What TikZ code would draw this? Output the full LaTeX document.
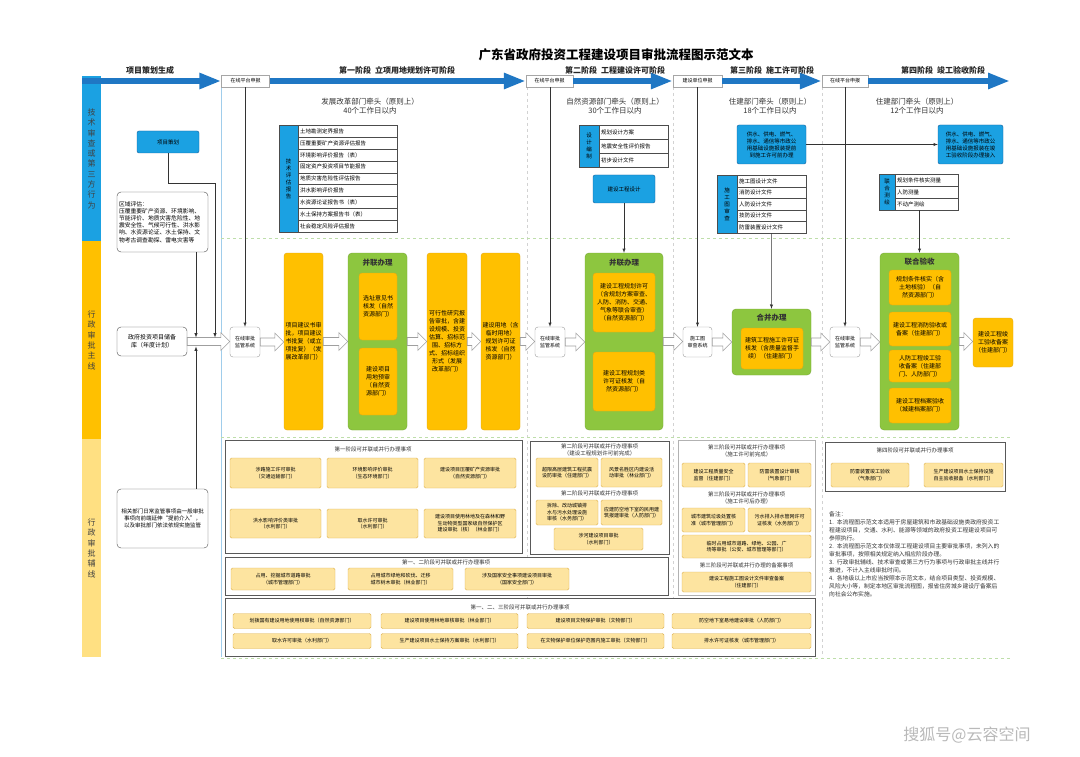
\documentclass[tikz,border=0pt]{standalone}
\usepackage{fontspec}
\setmainfont{Noto Sans CJK SC}
\XeTeXlinebreaklocale "zh"
\XeTeXlinebreakskip = 0pt
\usepackage{xcolor}
\usetikzlibrary{shapes.geometric, arrows, arrows.meta, positioning, calc}
\definecolor{hdrblue}{RGB}{31,119,196}
\definecolor{techblue}{RGB}{27,161,226}
\definecolor{techline}{RGB}{22,96,156}
\definecolor{mainorange}{RGB}{255,192,0}
\definecolor{mainline}{RGB}{228,168,20}
\definecolor{parlgreen}{RGB}{141,198,63}
\definecolor{auxfill}{RGB}{253,228,160}
\definecolor{auxline}{RGB}{222,178,80}
\definecolor{auxcol}{RGB}{255,224,130}
\definecolor{sepgreen}{RGB}{190,222,170}
\definecolor{sepblue}{RGB}{160,205,235}

\tikzset{
  titletxt/.style={font=\fontsize{12.5}{14}\selectfont\bfseries},
  lane/.style={minimum width=19pt, inner sep=0pt, anchor=north west, align=center, text=black!75, font=\fontsize{8}{10.3}\selectfont},
  hdrbox/.style={draw=gray!70, fill=white, minimum width=48pt, minimum height=12pt, inner sep=0pt, font=\fontsize{5}{6}\selectfont},
  hdrarrow/.style={hdrblue, line width=6pt, -{Triangle[length=22pt, width=15pt]}},
  stagelbl/.style={font=\fontsize{8}{9}\selectfont\bfseries, text=black!85},
  leadtxt/.style={align=center, font=\fontsize{7.5}{9}\selectfont, text=black!80},
  techbox/.style={draw=techline, fill=techblue, rounded corners=2pt, align=center, inner sep=1.5pt, font=\fontsize{5.5}{7}\selectfont},
  listtag/.style={draw=black!70, fill=techblue, inner sep=0pt, anchor=north west, align=center, font=\fontsize{5.5}{7}\selectfont},
  listrow/.style={draw=black!70, fill=white, anchor=north west, inner sep=2pt, align=left, font=\fontsize{5.5}{6.5}\selectfont},
  notebox/.style={draw=black!70, fill=white, rounded corners=4pt, align=left, inner sep=2pt, font=\fontsize{5.8}{7.2}\selectfont},
  platbox/.style={draw=gray!80, fill=white, rounded corners=3pt, minimum width=30pt, minimum height=30pt, inner sep=0pt, align=center, font=\fontsize{5}{6.5}\selectfont},
  mainbox/.style={fill=mainorange, draw=mainline, rounded corners=3pt, align=center, inner sep=1.5pt, font=\fontsize{6}{8}\selectfont},
  parbox/.style={fill=parlgreen, draw=parlgreen!85!black, rounded corners=4pt},
  partitle/.style={font=\fontsize{7.5}{9}\selectfont\bfseries, text=black!80},
  auxblock/.style={draw=black!65, line width=0.7pt, fill=white, anchor=north west, inner sep=0pt},
  auxtitle/.style={align=center, font=\fontsize{5.5}{7}\selectfont, text=black!80},
  auxbox/.style={fill=auxfill, draw=auxline, rounded corners=1.5pt, align=center, inner sep=1.5pt, font=\fontsize{5}{6.5}\selectfont},
  conn/.style={-latex, black!80, line width=0.5pt},
  fatline/.style={draw=gray!75, fill=white, line width=0.6pt},
  sepline/.style={dashed, draw=sepgreen, line width=0.6pt}
}

\newcommand{\fatarrow}[2]{%
  \draw[fatline] let \p1=(#1.east), \p2=(#2.west) in
    (\x1,\y1+4pt) -- (\x2-9pt,\y1+4pt) -- (\x2-9pt,\y1+9pt) -- (\x2,\y1)
    -- (\x2-9pt,\y1-9pt) -- (\x2-9pt,\y1-4pt) -- (\x1,\y1-4pt) -- cycle;}

\begin{document}
\begin{tikzpicture}[x=1pt, y=-1pt]
\useasboundingbox (0,0) rectangle (1080,757);
\fill[white] (0,0) rectangle (1080,757);

\node[titletxt] (title) at (616,55) {广东省政府投资工程建设项目审批流程图示范文本};

% lanes
\node[lane, fill=techblue, minimum height=165pt] (laneA) at (82,76) {技\\术\\审\\查\\或\\第\\三\\方\\行\\为};
\node[lane, fill=mainorange, minimum height=198pt] (laneB) at (82,241) {行\\政\\审\\批\\主\\线};
\node[lane, fill=auxcol, minimum height=218pt] (laneC) at (82,439) {行\\政\\审\\批\\辅\\线};

% separators
\draw[sepblue, line width=0.8pt] (221,87) -- (221,657);
\foreach \x in {527,673,822}
  \draw[dashed, gray!35, line width=0.5pt] (\x,87) -- (\x,657);
\draw[sepline] (221,238) -- (1010,238);
\draw[sepline] (221,437) -- (1010,437);
\draw[sepline] (221,658) -- (1010,658);

% stage header
\node[hdrbox] (h1) at (245.5,81) {在线平台申报};
\node[hdrbox, minimum width=47pt] (h2) at (549.5,81) {在线平台申报};
\node[hdrbox, minimum width=49pt] (h3) at (697.5,81) {建设单位申报};
\node[hdrbox, minimum width=46pt] (h4) at (845,81) {在线平台申报};
\coordinate (hbeg) at (82,81);
\coordinate (hend) at (1010,81);
\draw[hdrarrow] (hbeg) -- (h1.west);
\draw[hdrarrow] (h1.east) -- (h2.west);
\draw[hdrarrow] (h2.east) -- (h3.west);
\draw[hdrarrow] (h3.east) -- (h4.west);
\draw[hdrarrow] (h4.east) -- (hend);

\node[stagelbl] (s0) at (150,70) {项目策划生成};
\node[stagelbl] (s1) at (397,70) {第一阶段\enspace 立项用地规划许可阶段};
\node[stagelbl] (s2) at (615,70) {第二阶段\enspace 工程建设许可阶段};
\node[stagelbl] (s3) at (772,70) {第三阶段\enspace 施工许可阶段};
\node[stagelbl] (s4) at (943,70) {第四阶段\enspace 竣工验收阶段};

\node[leadtxt] (d1) at (370,106) {发展改革部门牵头（原则上）\\40个工作日以内};
\node[leadtxt] (d2) at (615,106) {自然资源部门牵头（原则上）\\30个工作日以内};
\node[leadtxt] (d3) at (770,106) {住建部门牵头（原则上）\\18个工作日以内};
\node[leadtxt] (d4) at (917,106) {住建部门牵头（原则上）\\12个工作日以内};

% technical review lane
\node[techbox, minimum width=62pt, minimum height=22pt] (plan) at (168,142) {项目策划};
\node[notebox, minimum height=60pt, text width=87pt] (qypg) at (162.5,222) {区域评估：\\压覆重要矿产资源、环境影响、节能评价、地质灾害危险性、地震安全性、气候可行性、洪水影响、水资源论证、水土保持、文物考古调查勘探、雷电灾害等};

\node[listtag, minimum width=19pt, minimum height=107pt] (tag1) at (279,125) {技\\术\\评\\估\\报\\告};
\foreach \t [count=\i] in {土地勘测定界报告, 压覆重要矿产资源评估报告, 环境影响评价报告（表）, 固定资产投资项目节能报告, 地质灾害危险性评估报告, 洪水影响评价报告, 水资源论证报告书（表）, 水土保持方案报告书（表）, 社会稳定风险评估报告}
  \node[listrow, minimum height=11.9pt, text width=95pt] (r1-\i) at (298,{125+11.9*(\i-1)}) {\t};

\node[listtag, minimum width=20pt, minimum height=42pt] (tag2) at (579,125) {设\\计\\编\\制};
\foreach \t [count=\i] in {规划设计方案, 地震安全性评价报告, 初步设计文件}
  \node[listrow, minimum height=14pt, text width=65pt] (r2-\i) at (599,{125+14*(\i-1)}) {\t};
\node[techbox, minimum width=62pt, minimum height=28pt] (sg2) at (624,189) {建设工程设计};

\node[techbox, minimum width=69pt, minimum height=39pt, text width=65pt] (sg3) at (771.5,144.5) {供水、供电、燃气、排水、通信等市政公用基础设施报装提前到施工许可前办理};
\node[techbox, minimum width=65pt, minimum height=39pt, text width=61pt] (sg4) at (970.5,144.5) {供水、供电、燃气、排水、通信等市政公用基础设施报装在竣工验收阶段办理接入};
\draw[conn] (sg3.east) -- (sg4.west);

\node[listtag, minimum width=20pt, minimum height=58pt] (tag3) at (717,175) {施\\工\\图\\审\\查};
\foreach \t [count=\i] in {施工图设计文件, 消防设计文件, 人防设计文件, 技防设计文件, 防雷装置设计文件}
  \node[listrow, minimum height=11.6pt, text width=65pt] (r3-\i) at (737,{175+11.6*(\i-1)}) {\t};

\node[listtag, minimum width=16pt, minimum height=36pt] (tag4) at (879,174) {联\\合\\测\\绘};
\foreach \t [count=\i] in {规划条件核实测量, 人防测量, 不动产测绘}
  \node[listrow, minimum height=12pt, text width=59pt] (r4-\i) at (895,{174+12*(\i-1)}) {\t};

% main approval lane
\node[notebox, minimum width=70pt, minimum height=29pt, text width=66pt, align=center, font=\fontsize{6}{8}\selectfont] (cbk) at (152,341.5) {政府投资项目储备库（年度计划）};
\node[platbox] (plat1) at (245,342) {在线审批\\监管系统};
\node[mainbox, minimum width=39pt, minimum height=177pt, text width=36pt] (xmjys) at (303.5,341.5) {项目建议书审批，项目建议书批复（或立项批复）（发展改革部门）};
\node[parbox, minimum width=59pt, minimum height=177pt] (bl1) at (377.5,341.5) {};
\node[partitle] (bl1t) at (377.5,263) {并联办理};
\node[mainbox, minimum width=38pt, minimum height=67pt, text width=35pt] (bl1a) at (378,306.5) {选址意见书核发（自然资源部门）};
\node[mainbox, minimum width=38pt, minimum height=67pt, text width=35pt] (bl1b) at (378,381.5) {建设项目用地预审（自然资源部门）};
\node[mainbox, minimum width=40pt, minimum height=177pt, text width=37pt] (kxx) at (447,341.5) {可行性研究报告审批，含建设规模、投资估算、招标范围、招标方式、招标组织形式（发展改革部门）};
\node[mainbox, minimum width=39pt, minimum height=177pt, text width=36pt] (ydgh) at (500.5,341.5) {建设用地（含临时用地）规划许可证核发（自然资源部门）};
\node[platbox] (plat2) at (550,342) {在线审批\\监管系统};
\node[parbox, minimum width=78pt, minimum height=177pt] (bl2) at (624,341.5) {};
\node[partitle] (bl2t) at (624,263) {并联办理};
\node[mainbox, minimum width=62pt, minimum height=59pt, text width=58pt] (bl2a) at (624,302.5) {建设工程规划许可（含规划方案审查、人防、消防、交通、气象等联合审查）（自然资源部门）};
\node[mainbox, minimum width=62pt, minimum height=59pt, text width=58pt] (bl2b) at (624,381.5) {建设工程规划类许可证核发（自然资源部门）};
\node[platbox, minimum width=29pt] (plat3) at (697.5,342) {施工图\\审查系统};
\node[parbox, minimum width=79pt, minimum height=66pt] (hb) at (771.5,342) {};
\node[partitle] (hbt) at (771.5,318) {合并办理};
\node[mainbox, minimum width=62pt, minimum height=41pt, text width=58pt] (hba) at (772,348.5) {建筑工程施工许可证核发（含质量监督手续）（住建部门）};
\node[platbox] (plat4) at (845,342) {在线审批\\监管系统};
\node[parbox, minimum width=79pt, minimum height=177pt] (lh) at (919.5,341.5) {};
\node[partitle] (lht) at (919.5,262) {联合验收};
\node[mainbox, minimum width=62pt, minimum height=35pt, text width=58pt] (lha) at (920,287.5) {规划条件核实（含土地核验）（自然资源部门）};
\node[mainbox, minimum width=62pt, minimum height=34pt, text width=58pt] (lhb) at (920,329) {建设工程消防验收或备案（住建部门）};
\node[mainbox, minimum width=62pt, minimum height=32pt, text width=58pt] (lhc) at (920,366) {人防工程竣工验收备案（住建部门、人防部门）};
\node[mainbox, minimum width=62pt, minimum height=35pt, text width=58pt] (lhd) at (920,405.5) {建设工程档案验收（城建档案部门）};
\node[mainbox, minimum width=40pt, minimum height=49pt, text width=37pt] (ba) at (993,342.5) {建设工程竣工验收备案（住建部门）};

\fatarrow{cbk}{plat1}
\fatarrow{plat1}{xmjys}
\fatarrow{xmjys}{bl1}
\fatarrow{bl1}{kxx}
\fatarrow{kxx}{ydgh}
\fatarrow{ydgh}{plat2}
\fatarrow{plat2}{bl2}
\fatarrow{bl2}{plat3}
\fatarrow{plat3}{hb}
\fatarrow{hb}{plat4}
\fatarrow{plat4}{lh}
\fatarrow{lh}{ba}

% connectors into the main lane
\coordinate (j1) at (215,337.5);
\coordinate (j2) at (196,337.5);
\coordinate (j3) at (196,346.5);
\draw[conn] (plan.south) |- (j1 |- 0,183) -- (j1);
\draw[conn] (qypg.south -| j2) -- (j2);
\draw[conn] (plat1.north |- h1.south) -- (plat1.north);
\draw[conn] (plat2.north |- h2.south) -- (plat2.north);
\draw[conn] (plat3.north |- h3.south) -- (plat3.north);
\draw[conn] (plat4.north |- h4.south) -- (plat4.north);
\draw[conn] (sg2.south) -- (bl2.north);
\draw[conn] (r3-5.south) -- (hb.north);
\draw[conn] (lh.north |- r4-3.south) -- (lh.north);

% auxiliary lane
\node[notebox, minimum width=91pt, minimum height=59pt, text width=87pt, align=center, font=\fontsize{5.5}{7}\selectfont] (fxb) at (162.5,518.5) {相关部门日常监管事项由一般审批事项向前端延伸“提前介入”，以及审批部门依法依规实施监管};
\draw[conn] (fxb.north -| j3) -- (j3);

% stage 1 block
\node[auxblock, minimum width=297pt, minimum height=113pt] (blk1) at (225,440) {};
\node[auxtitle] (blk1t) at (373,449) {第一阶段可并联或并行办理事项};
\node[auxbox, minimum width=91pt, minimum height=30pt, text width=87pt] (a1) at (275.5,473) {涉路施工许可审批\\（交通运输部门）};
\node[auxbox, minimum width=91pt, minimum height=30pt, text width=87pt] (a2) at (372.5,473) {环境影响评价审批\\（生态环境部门）};
\node[auxbox, minimum width=92pt, minimum height=30pt, text width=88pt] (a3) at (470,473) {建设项目压覆矿产资源审批\\（自然资源部门）};
\node[auxbox, minimum width=91pt, minimum height=29pt, text width=87pt] (a4) at (275.5,523.5) {洪水影响评价类审批\\（水利部门）};
\node[auxbox, minimum width=91pt, minimum height=29pt, text width=87pt] (a5) at (372.5,523.5) {取水许可审批\\（水利部门）};
\node[auxbox, minimum width=92pt, minimum height=29pt, text width=88pt] (a6) at (470,523.5) {建设项目使用林地及在森林和野生动物类型国家级自然保护区建设审批（核）（林业部门）};

% stage 1-2 block
\node[auxblock, minimum width=443pt, minimum height=38pt] (blk12) at (225,557) {};
\node[auxtitle] (blk12t) at (446,562) {第一、二阶段可并联或并行办理事项};
\node[auxbox, minimum width=104pt, minimum height=22pt, text width=100pt] (b1) at (283,579) {占用、挖掘城市道路审批\\（城市管理部门）};
\node[auxbox, minimum width=105pt, minimum height=22pt, text width=101pt] (b2) at (400.5,579) {占用城市绿地和砍伐、迁移城市树木审批（林业部门）};
\node[auxbox, minimum width=104pt, minimum height=22pt, text width=100pt] (b3) at (517,579) {涉及国家安全事项建设项目审批\\（国家安全部门）};

% stage 2 block
\node[auxblock, minimum width=139pt, minimum height=113pt] (blk2) at (530,441) {};
\node[auxtitle] (blk2t) at (599.5,450) {第二阶段可并联或并行办理事项\\（建设工程规划许可前完成）};
\node[auxbox, minimum width=62pt, minimum height=29pt, text width=58pt] (c1) at (567,472.5) {超限高层建筑工程抗震设防审批（住建部门）};
\node[auxbox, minimum width=61pt, minimum height=29pt, text width=57pt] (c2) at (631.5,472.5) {风景名胜区内建设活动审批（林业部门）};
\node[auxtitle] (blk2s) at (599.5,493) {第二阶段可并联或并行办理事项};
\node[auxbox, minimum width=62pt, minimum height=25pt, text width=58pt] (c3) at (567,512.5) {拆除、改动城镇排水与污水处理设施审核（水务部门）};
\node[auxbox, minimum width=61pt, minimum height=25pt, text width=57pt] (c4) at (631.5,512.5) {应建防空地下室的民用建筑报建审批（人防部门）};
\node[auxbox, minimum width=89pt, minimum height=22pt, text width=85pt] (c5) at (598.5,539) {涉河建设项目审批\\（水利部门）};

% stage 3 block
\node[auxblock, draw=black!30, minimum width=137pt, minimum height=155pt] (blk3) at (678,440) {};
\node[auxtitle] (blk3t) at (746.5,451) {第三阶段可并联或并行办理事项\\（施工许可前完成）};
\node[auxbox, minimum width=63pt, minimum height=24pt, text width=59pt] (e1) at (713.5,475) {建设工程质量安全监督（住建部门）};
\node[auxbox, minimum width=63pt, minimum height=24pt, text width=59pt] (e2) at (779.5,475) {防雷装置设计审核\\（气象部门）};
\node[auxtitle] (blk3s) at (746.5,498) {第三阶段可并联或并行办理事项\\（施工许可后办理）};
\node[auxbox, minimum width=63pt, minimum height=24pt, text width=59pt] (e3) at (713.5,520) {城市建筑垃圾处置核准（城市管理部门）};
\node[auxbox, minimum width=63pt, minimum height=24pt, text width=59pt] (e4) at (779.5,520) {污水排入排水管网许可证核发（水务部门）};
\node[auxbox, minimum width=129pt, minimum height=23pt, text width=125pt] (e5) at (746.5,546.5) {临时占用城市道路、绿地、公园、广场等审批（公安、城市管理等部门）};
\node[auxtitle] (blk3u) at (746.5,565) {第三阶段可并联或并行办理的备案事项};
\node[auxbox, minimum width=129pt, minimum height=20pt, text width=125pt] (e6) at (746.5,582) {建设工程施工图设计文件审查备案\\（住建部门）};

% stage 4 block
\node[auxblock, minimum width=180pt, minimum height=49pt] (blk4) at (825,442) {};
\node[auxtitle] (blk4t) at (915,450) {第四阶段可并联或并行办理事项};
\node[auxbox, minimum width=78pt, minimum height=24pt, text width=74pt] (f1) at (870,475) {防雷装置竣工验收\\（气象部门）};
\node[auxbox, minimum width=79pt, minimum height=24pt, text width=75pt] (f2) at (963.5,475) {生产建设项目水土保持设施自主验收报备（水利部门）};

% notes
\node[anchor=north west, text width=174pt, align=left, inner sep=0pt, font=\fontsize{5.8}{8}\selectfont, text=black!80] (notes) at (829,511) {备注：\\
1. 本流程图示范文本适用于房屋建筑和市政基础设施类政府投资工程建设项目，交通、水利、能源等领域的政府投资工程建设项目可参照执行。\\
2. 本流程图示范文本仅体现工程建设项目主要审批事项，未列入的审批事项，按照相关规定纳入相应阶段办理。\\
3. 行政审批辅线、技术审查或第三方行为事项与行政审批主线并行推进，不计入主线审批时间。\\
4. 各地级以上市应当按照本示范文本，结合项目类型、投资规模、风险大小等，制定本地区审批流程图，报省住房城乡建设厅备案后向社会公布实施。};

% stages 1-3 block
\node[auxblock, minimum width=590pt, minimum height=58pt] (blk123) at (225,598) {};
\node[auxtitle] (blk123t) at (520,607) {第一、二、三阶段可并联或并行办理事项};
\node[auxbox, minimum width=138pt, minimum height=15pt, text width=134pt] (g1) at (302,621) {划拨国有建设用地使用权审批（自然资源部门）};
\node[auxbox, minimum width=137pt, minimum height=15pt, text width=133pt] (g2) at (449.5,621) {建设项目使用林地审核审批（林业部门）};
\node[auxbox, minimum width=137pt, minimum height=15pt, text width=133pt] (g3) at (595.5,621) {建设项目文物保护审批（文物部门）};
\node[auxbox, minimum width=139pt, minimum height=15pt, text width=135pt] (g4) at (741.5,621) {防空地下室易地建设审批（人防部门）};
\node[auxbox, minimum width=138pt, minimum height=15pt, text width=134pt] (g5) at (302,641) {取水许可审批（水利部门）};
\node[auxbox, minimum width=137pt, minimum height=15pt, text width=133pt] (g6) at (449.5,641) {生产建设项目水土保持方案审批（水利部门）};
\node[auxbox, minimum width=137pt, minimum height=15pt, text width=133pt] (g7) at (595.5,641) {在文物保护单位保护范围内施工审批（文物部门）};
\node[auxbox, minimum width=139pt, minimum height=15pt, text width=135pt] (g8) at (741.5,641) {排水许可证核发（城市管理部门）};

\node[font=\fontsize{16}{18}\selectfont, text=gray!55] (wm) at (967,735) {搜狐号@云容空间};
\end{tikzpicture}
\end{document}
